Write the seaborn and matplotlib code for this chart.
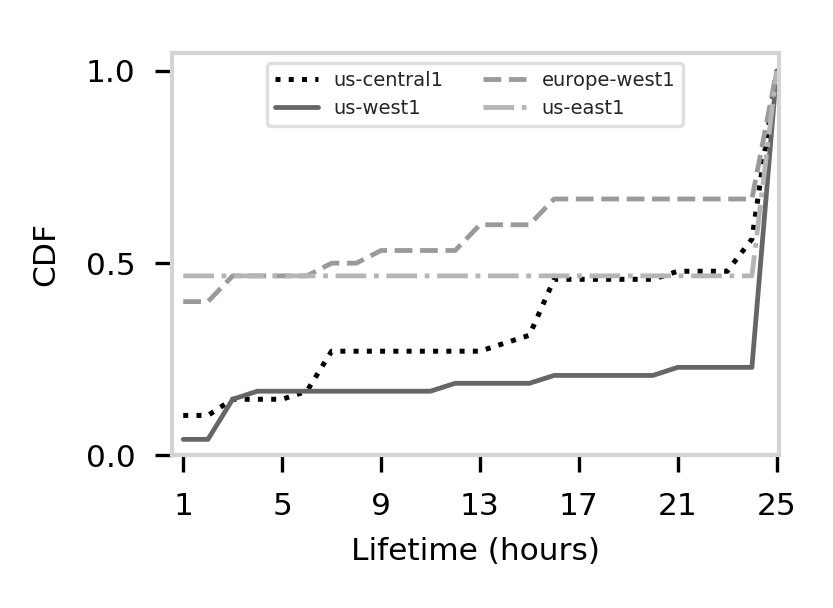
import matplotlib
matplotlib.use("Agg")
import matplotlib.pyplot as plt
import seaborn as sns
import numpy as np
import pandas as pd

hours = list(range(1, 26))
us_central1 = [0.104, 0.104, 0.146, 0.146, 0.146, 0.167, 0.271, 0.271, 0.271, 0.271,
               0.271, 0.271, 0.271, 0.292, 0.3125, 0.458, 0.458, 0.458, 0.458, 0.458,
               0.479, 0.479, 0.479, 0.5625, 1.0]
us_west1 = [0.0417, 0.0417, 0.146, 0.167, 0.167, 0.167, 0.167, 0.167, 0.167, 0.167,
            0.167, 0.1875, 0.1875, 0.1875, 0.1875, 0.208, 0.208, 0.208, 0.208, 0.208,
            0.229, 0.229, 0.229, 0.229, 1.0]
europe_west1 = [0.4, 0.4, 0.467, 0.467, 0.467, 0.467, 0.5, 0.5, 0.533, 0.533,
                0.533, 0.533, 0.6, 0.6, 0.6, 0.667, 0.667, 0.667, 0.667, 0.667,
                0.667, 0.667, 0.667, 0.667, 1.0]
us_east1 = [0.467] * 24 + [1.0]

series_names = ["us-central1", "us-west1", "europe-west1", "us-east1"]
series_values = [us_central1, us_west1, europe_west1, us_east1]
xticks = [1, 5, 9, 13, 17, 21, 25]
yticks = [0.0, 0.5, 1.0]

sns.set_style("ticks")
plt.rcParams["font.family"] = ["DejaVu Sans"]

fig = plt.figure(figsize=(833 / 300, 608 / 300), dpi=300)
ax = fig.add_axes([0.206, 0.251, 0.729, 0.662])

styles = {
    "us-central1": dict(color="black", linestyle=":", lw=1.2),
    "us-west1": dict(color="#666666", linestyle="-", lw=1.15),
    "europe-west1": dict(color="#9a9a9a", linestyle="--", lw=1.15),
    "us-east1": dict(color="#b5b5b5", linestyle="-.", lw=1.15),
}

for name, vals in zip(series_names, series_values):
    df = pd.DataFrame({"hours": hours, "cdf": vals})
    sns.lineplot(data=df, x="hours", y="cdf", ax=ax, label=name, **styles[name])

ax.set_xlim(0.53, 25.09)
ax.set_ylim(0.0, 1.047)
ax.set_xticks(xticks)
ax.set_xticklabels([str(t) for t in xticks])
ax.set_yticks(yticks)
ax.set_yticklabels([f"{t:.1f}" for t in yticks])

for sp in ax.spines.values():
    sp.set_visible(True)
    sp.set_color("#d4d4d4")
    sp.set_linewidth(1.0)

ax.tick_params(axis="both", which="major", colors="black", labelsize=7.5,
               length=4.0, width=0.8, pad=4.7, direction="out")
ax.set_xlabel("Lifetime (hours)", fontsize=7.5, color="black", labelpad=4)
ax.set_ylabel("CDF", fontsize=7.5, color="black", labelpad=6)

leg = ax.legend(loc="upper center", ncol=2, fontsize=4.7, frameon=True,
                fancybox=True, edgecolor="#d8d8d8", handlelength=2.2,
                columnspacing=2.0)
leg.get_frame().set_linewidth(0.8)

fig.savefig("out.png", dpi=300)
